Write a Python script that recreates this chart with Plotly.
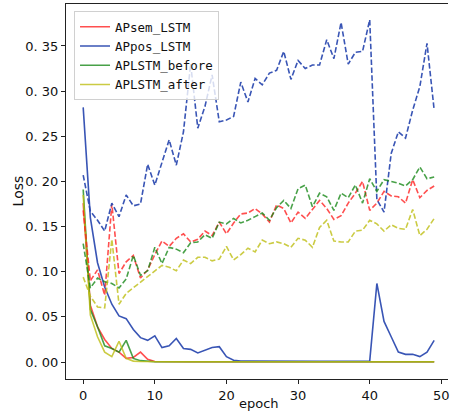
import plotly.graph_objects as go

epochs = list(range(50))

# training losses (solid)
apsem_train = [0.176, 0.063, 0.039, 0.025, 0.015, 0.011, 0.004, 0.005, 0.011, 0.003,
               0.0005, 0.0003, 0.0003, 0.0003, 0.0003, 0.0003, 0.0003, 0.0003, 0.0003, 0.0003,
               0.0003, 0.0003, 0.0003, 0.0003, 0.0003, 0.0003, 0.0003, 0.0003, 0.0003, 0.0003,
               0.0003, 0.0003, 0.0003, 0.0003, 0.0003, 0.0003, 0.0003, 0.0003, 0.0003, 0.0003,
               0.0003, 0.0003, 0.0003, 0.0003, 0.0003, 0.0003, 0.0003, 0.0003, 0.0003, 0.0003]
appos_train = [0.282, 0.160, 0.110, 0.083, 0.064, 0.051, 0.048, 0.036, 0.027, 0.024,
               0.029, 0.016, 0.018, 0.026, 0.015, 0.014, 0.010, 0.013, 0.016, 0.017,
               0.006, 0.002, 0.001, 0.001, 0.0009, 0.0009, 0.0008, 0.0008, 0.0008, 0.0008,
               0.0008, 0.0008, 0.0008, 0.0008, 0.0008, 0.0008, 0.0008, 0.0008, 0.0008, 0.0009,
               0.001, 0.087, 0.045, 0.028, 0.011, 0.0085, 0.0085, 0.006, 0.011, 0.024]
before_train = [0.191, 0.058, 0.039, 0.018, 0.015, 0.011, 0.024, 0.004, 0.0015, 0.0008,
                0.0003, 0.0003, 0.0003, 0.0003, 0.0003, 0.0003, 0.0003, 0.0003, 0.0003, 0.0003,
                0.0003, 0.0003, 0.0003, 0.0003, 0.0003, 0.0003, 0.0003, 0.0003, 0.0003, 0.0003,
                0.0003, 0.0003, 0.0003, 0.0003, 0.0003, 0.0003, 0.0003, 0.0003, 0.0003, 0.0003,
                0.0003, 0.0003, 0.0003, 0.0003, 0.0003, 0.0003, 0.0003, 0.0003, 0.0003, 0.0003]
after_train = [0.185, 0.052, 0.028, 0.011, 0.006, 0.023, 0.004, 0.001, 0.0005, 0.0003,
               0.0003, 0.0003, 0.0003, 0.0003, 0.0003, 0.0003, 0.0003, 0.0003, 0.0003, 0.0003,
               0.0003, 0.0003, 0.0003, 0.0003, 0.0003, 0.0003, 0.0003, 0.0003, 0.0003, 0.0003,
               0.0003, 0.0003, 0.0003, 0.0003, 0.0003, 0.0003, 0.0003, 0.0003, 0.0003, 0.0003,
               0.0003, 0.0003, 0.0003, 0.0003, 0.0003, 0.0003, 0.0003, 0.0003, 0.0003, 0.0003]

# validation losses (dashed)
apsem_val = [0.168, 0.090, 0.102, 0.074, 0.175, 0.098, 0.111, 0.118, 0.093, 0.102,
             0.119, 0.134, 0.128, 0.137, 0.142, 0.133, 0.136, 0.145, 0.140, 0.155,
             0.142, 0.154, 0.164, 0.165, 0.170, 0.164, 0.155, 0.174, 0.170, 0.154,
             0.166, 0.159, 0.169, 0.179, 0.170, 0.158, 0.162, 0.176, 0.187, 0.200,
             0.168, 0.176, 0.189, 0.184, 0.183, 0.176, 0.202, 0.182, 0.190, 0.195]
appos_val = [0.207, 0.167, 0.157, 0.145, 0.176, 0.161, 0.185, 0.173, 0.175, 0.219,
             0.196, 0.220, 0.246, 0.218, 0.255, 0.330, 0.259, 0.283, 0.318, 0.266,
             0.268, 0.272, 0.310, 0.288, 0.314, 0.307, 0.320, 0.323, 0.344, 0.313,
             0.334, 0.325, 0.329, 0.329, 0.357, 0.336, 0.376, 0.330, 0.343, 0.344,
             0.379, 0.180, 0.166, 0.231, 0.255, 0.248, 0.279, 0.305, 0.353, 0.279]
before_val = [0.131, 0.082, 0.093, 0.089, 0.087, 0.082, 0.092, 0.118, 0.096, 0.101,
              0.127, 0.109, 0.127, 0.125, 0.121, 0.132, 0.133, 0.141, 0.137, 0.155,
              0.153, 0.159, 0.154, 0.157, 0.161, 0.165, 0.157, 0.171, 0.179, 0.170,
              0.192, 0.196, 0.172, 0.187, 0.183, 0.168, 0.187, 0.182, 0.196, 0.176,
              0.203, 0.189, 0.202, 0.200, 0.198, 0.195, 0.202, 0.216, 0.203, 0.205]
after_val = [0.094, 0.073, 0.061, 0.060, 0.136, 0.064, 0.076, 0.082, 0.089, 0.094,
             0.100, 0.107, 0.105, 0.101, 0.113, 0.109, 0.116, 0.116, 0.112, 0.114,
             0.128, 0.113, 0.119, 0.126, 0.122, 0.135, 0.131, 0.133, 0.131, 0.127,
             0.137, 0.135, 0.127, 0.149, 0.157, 0.134, 0.133, 0.133, 0.145, 0.146,
             0.157, 0.153, 0.145, 0.152, 0.148, 0.147, 0.169, 0.140, 0.147, 0.159]

names = ["APsem_LSTM", "APpos_LSTM", "APLSTM_before", "APLSTM_after"]
train_series = [apsem_train, appos_train, before_train, after_train]
val_series = [apsem_val, appos_val, before_val, after_val]
colors = ["rgba(255,30,30,0.78)", "rgba(40,70,175,0.92)", "rgba(20,135,20,0.78)", "rgba(190,190,20,0.8)"]

yticks = [0.0, 0.05, 0.10, 0.15, 0.20, 0.25, 0.30, 0.35]
yticktext = ["0. 00", "0. 05", "0. 10", "0. 15", "0. 20", "0. 25", "0. 30", "0. 35"]
xticks = [0, 10, 20, 30, 40, 50]

fig = go.Figure()
for name, tr, c in zip(names, train_series, colors):
    fig.add_trace(go.Scatter(x=epochs, y=tr, mode="lines", name=name,
                             line=dict(color=c, width=1.6)))
for name, va, c in zip(names, val_series, colors):
    fig.add_trace(go.Scatter(x=epochs, y=va, mode="lines", name=name + " val",
                             showlegend=False,
                             line=dict(color=c, width=1.6, dash="5.5px,2.4px")))

axis_common = dict(showgrid=False, zeroline=False, showline=True, linecolor="#222",
                   linewidth=1, ticks="outside", ticklen=4, tickwidth=1, tickcolor="#222",
                   ticklabeloverflow="allow",
                   tickfont=dict(family="DejaVu Sans", size=13, color="#111"))

fig.update_layout(
    width=450, height=414,
    margin=dict(l=66, r=0, t=4, b=35),
    plot_bgcolor="white", paper_bgcolor="white",
    xaxis=dict(range=[-2.40, 50.93], tickvals=xticks, mirror=True, **axis_common),
    yaxis=dict(range=[-0.0188, 0.3965], tickvals=yticks, ticktext=yticktext, **axis_common),
    legend=dict(x=0.021, y=0.981, xanchor="left", yanchor="top",
                bgcolor="rgba(255,255,255,0.8)", bordercolor="#d0d0d0", borderwidth=1,
                font=dict(family="DejaVu Sans Mono", size=12.5, color="#111"),
                tracegroupgap=0),
    annotations=[
        dict(text="epoch", x=0.505, y=-0.064, xref="paper", yref="paper",
             showarrow=False, xanchor="center", yanchor="middle",
             font=dict(family="DejaVu Sans", size=13, color="#111")),
        dict(text="Loss", x=-0.125, y=0.501, xref="paper", yref="paper",
             showarrow=False, xanchor="center", yanchor="middle", textangle=-90,
             font=dict(family="DejaVu Sans", size=14, color="#111")),
    ],
)

fig.write_html("out.html")
